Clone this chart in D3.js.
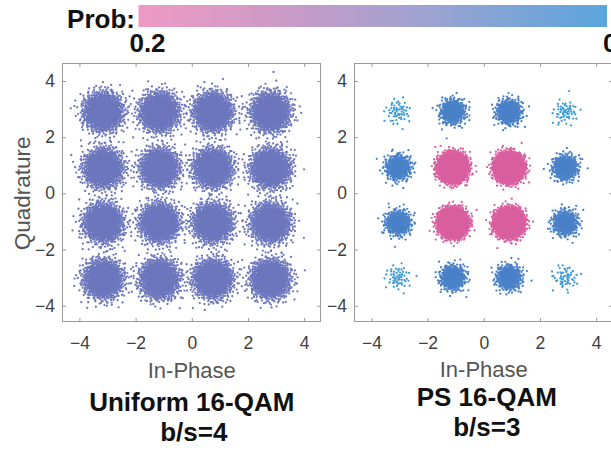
<!DOCTYPE html>
<html>
<head>
<meta charset="utf-8">
<script src="https://cdn.jsdelivr.net/npm/d3@7"></script>
<style>
  html, body { margin: 0; padding: 0; background: #fff; overflow: hidden; }
  svg { display: block; font-family: "Liberation Sans", Arial, Helvetica, sans-serif; }
</style>
</head>
<body>
<svg id="chart" width="611" height="450"></svg>
<script>
// Axis ticks shared by both constellation panels
const tickValues = [-4, -2, 0, 2, 4];

// Uniform 16-QAM: received symbol centres (In-Phase columns, Quadrature rows top to bottom)
const uniformI = [-3.15, -1.15, 0.75, 2.8];
const uniformQ = [2.9, 0.9, -1.05, -3.05];
// probability of each constellation point, rows top to bottom
const uniformProb = [
  [0.0625, 0.0625, 0.0625, 0.0625],
  [0.0625, 0.0625, 0.0625, 0.0625],
  [0.0625, 0.0625, 0.0625, 0.0625],
  [0.0625, 0.0625, 0.0625, 0.0625]
];
const uniformNoise = 0.33;     // noise standard deviation
const uniformSymbols = 24000;  // received symbols plotted

// Probabilistically shaped 16-QAM
const psI = [-3.05, -1.1, 0.9, 2.9];
const psQ = [2.9, 0.92, -1.05, -3.0];
const psProb = [
  [0.003, 0.025, 0.025, 0.003],
  [0.025, 0.197, 0.197, 0.025],
  [0.025, 0.197, 0.197, 0.025],
  [0.003, 0.025, 0.025, 0.003]
];
const psNoise = 0.22;
const psSymbols = 20000;

// Panel titles
const panelTitles = [
  { name: "Uniform 16-QAM", rate: "b/s=4" },
  { name: "PS 16-QAM", rate: "b/s=3" }
];
const colorbarLabels = ["0.2", "0"];

const svg = d3.select("#chart");
const FONT_GREY = "#404040";
const AXIS_GREY = "#9a9a9a";

// probability -> marker colour
const probColor = d3.scaleLinear()
  .domain([0.003, 0.025, 0.0625, 0.197])
  .range(["#3d9bd6", "#4a80c8", "#6c77bd", "#d95f9f"])
  .interpolate(d3.interpolateRgb);

// ---- colour bar ----
const defs = svg.append("defs");
const grad = defs.append("linearGradient").attr("id", "probGrad")
  .attr("x1", "0%").attr("x2", "100%").attr("y1", "0%").attr("y2", "0%");
[["0%", "#ee9ac3"], ["35%", "#c69bc8"], ["62%", "#9ca3d0"], ["100%", "#5aa5dd"]]
  .forEach(([o, c]) => grad.append("stop").attr("offset", o).attr("stop-color", c));

const barScale = d3.scaleLinear().domain([0.2, 0]).range([138.5, 607]);
svg.append("rect")
  .attr("x", barScale(0.2)).attr("y", 5)
  .attr("width", barScale(0) - barScale(0.2)).attr("height", 22)
  .attr("fill", "url(#probGrad)");

svg.append("text").attr("x", 135).attr("y", 28)
  .attr("text-anchor", "end").attr("font-size", 26).attr("font-weight", "bold")
  .attr("fill", "#111").text("Prob:");
svg.append("text").attr("x", barScale(0.2) + 9).attr("y", 52)
  .attr("text-anchor", "middle").attr("font-size", 26).attr("font-weight", "bold")
  .attr("fill", "#111").text(colorbarLabels[0]);
svg.append("text").attr("x", barScale(0) - 4).attr("y", 52)
  .attr("text-anchor", "start").attr("font-size", 26).attr("font-weight", "bold")
  .attr("fill", "#111").text(colorbarLabels[1]);

// Deterministic low-discrepancy sequence for the noise cloud of each symbol
function halton(i, base) {
  let f = 1, r = 0;
  while (i > 0) { f /= base; r += f * (i % base); i = Math.floor(i / base); }
  return r;
}

function drawPanel(opts) {
  const { left, top, size, iLevels, qLevels, prob, noise, symbols, title, yLabel, titleShift } = opts;
  const x = d3.scaleLinear().domain([-4.62, 4.6]).range([left, left + size]);
  const y = d3.scaleLinear().domain([-4.58, 4.64]).range([top + size, top]);
  const g = svg.append("g");

  // received symbols
  const pts = [];
  let k = 0;
  qLevels.forEach((q, r) => {
    iLevels.forEach((iv, c) => {
      const p = prob[r][c];
      const n = Math.round(p * symbols);
      const offset = 1 + k * 7919;
      for (let j = 0; j < n; j++) {
        const u1 = halton(offset + j, 2) || 1e-6;
        const u2 = halton(offset + j, 3);
        const rad = noise * Math.sqrt(-2 * Math.log(u1));
        const th = 2 * Math.PI * u2;
        pts.push({ i: iv + rad * Math.cos(th), q: q + rad * Math.sin(th), p });
      }
      k++;
    });
  });

  const clipId = "clip" + left;
  defs.append("clipPath").attr("id", clipId).append("rect")
    .attr("x", left).attr("y", top).attr("width", size).attr("height", size);

  g.append("g").attr("clip-path", `url(#${clipId})`)
    .selectAll("circle").data(pts).join("circle")
    .attr("cx", d => x(d.i)).attr("cy", d => y(d.q))
    .attr("r", 1.15)
    .attr("fill", d => probColor(d.p));

  // axes with inward ticks on all four sides
  const styleAxis = sel => {
    sel.select(".domain").remove();
    sel.selectAll(".tick line").attr("stroke", AXIS_GREY);
    sel.selectAll(".tick text").attr("fill", FONT_GREY).attr("font-size", 17.5)
      .attr("font-family", "'Liberation Sans', Arial, Helvetica, sans-serif");
  };
  g.append("g").attr("transform", `translate(0,${top + size})`)
    .call(d3.axisBottom(x).tickValues(tickValues).tickSizeInner(-4).tickSizeOuter(0).tickPadding(15))
    .call(styleAxis);
  g.append("g").attr("transform", `translate(0,${top})`)
    .call(d3.axisTop(x).tickValues(tickValues).tickSizeInner(-4).tickSizeOuter(0).tickFormat(""))
    .call(styleAxis);
  g.append("g").attr("transform", `translate(${left},0)`)
    .call(d3.axisLeft(y).tickValues(tickValues).tickSizeInner(-4).tickSizeOuter(0).tickPadding(7))
    .call(styleAxis);
  g.append("g").attr("transform", `translate(${left + size},0)`)
    .call(d3.axisRight(y).tickValues(tickValues).tickSizeInner(-4).tickSizeOuter(0).tickFormat(""))
    .call(styleAxis);

  g.append("rect")
    .attr("x", left + 0.5).attr("y", top + 0.5)
    .attr("width", size - 1).attr("height", size - 1)
    .attr("fill", "none").attr("stroke", AXIS_GREY).attr("stroke-width", 1);

  const cx = x(0);
  g.append("text").attr("x", cx).attr("y", 378 - titleShift * 0.2)
    .attr("text-anchor", "middle").attr("font-size", 22).attr("fill", "#555")
    .text("In-Phase");

  if (yLabel) {
    g.append("text")
      .attr("transform", `translate(30,${y(0)}) rotate(-90)`)
      .attr("text-anchor", "middle").attr("font-size", 22.5).attr("fill", "#555")
      .text("Quadrature");
  }

  g.append("text").attr("x", cx + opts.titleDx).attr("y", 411 - titleShift)
    .attr("text-anchor", "middle").attr("font-size", 26).attr("font-weight", "bold")
    .attr("fill", "#111").text(title.name);
  g.append("text").attr("x", cx + opts.rateDx).attr("y", 441 - titleShift)
    .attr("text-anchor", "middle").attr("font-size", 26).attr("font-weight", "bold")
    .attr("fill", "#111").text(title.rate);
}

drawPanel({
  left: 62, top: 63, size: 259,
  iLevels: uniformI, qLevels: uniformQ, prob: uniformProb,
  noise: uniformNoise, symbols: uniformSymbols,
  title: panelTitles[0], yLabel: true, titleShift: 0, titleDx: 0, rateDx: 2
});
drawPanel({
  left: 354, top: 63, size: 259,
  iLevels: psI, qLevels: psQ, prob: psProb,
  noise: psNoise, symbols: psSymbols,
  title: panelTitles[1], yLabel: false, titleShift: 5, titleDx: 3, rateDx: 3
});
</script>
</body>
</html>
